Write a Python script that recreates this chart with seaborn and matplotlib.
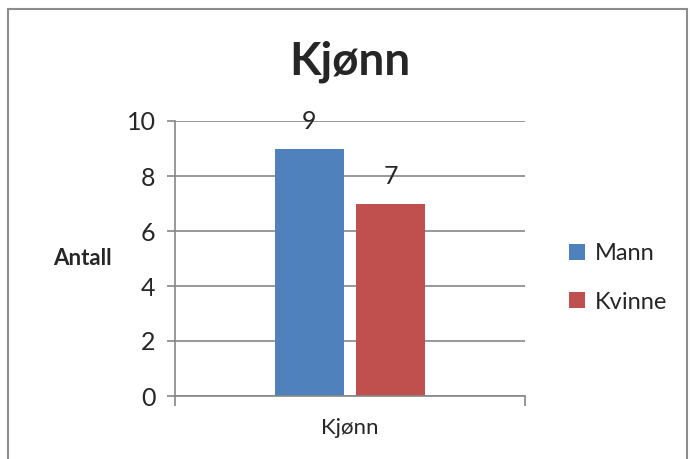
import matplotlib
matplotlib.use("Agg")
import matplotlib.pyplot as plt
import seaborn as sns
import pandas as pd
from matplotlib.patches import Rectangle, Patch

categories = ["Kjønn", "Kjønn"]
series = ["Mann", "Kvinne"]
values = [9, 7]
colors = ["#4F81BD", "#C0504D"]
yticks = [0, 2, 4, 6, 8, 10]

sns.set_theme(style="white")
plt.rcParams["font.family"] = ["Lato", "DejaVu Sans"]

df = pd.DataFrame({"cat": categories, "serie": series, "value": values})

fig = plt.figure(figsize=(6.9, 4.59), dpi=100)
ax = fig.add_axes([175/690, 1-396/459, 350/690, 275/459])

sns.barplot(data=df, x="cat", y="value", hue="serie", palette=colors,
            width=0.463, gap=0.16, ax=ax, legend=False, saturation=1,
            edgecolor="none")

ax.set_xlim(-0.5, 0.5)
ax.set_ylim(0, 10)
ax.set_yticks(yticks)
ax.set_yticklabels([str(t) for t in yticks], fontsize=18)
ax.yaxis.grid(True, color="#868686", linewidth=1.2)
ax.set_axisbelow(True)
for s in ["top", "right"]:
    ax.spines[s].set_visible(False)
for s in ["left", "bottom"]:
    ax.spines[s].set_color("#868686")
    ax.spines[s].set_linewidth(1.2)
ax.tick_params(axis="y", which="major", length=6, width=1.2, color="#868686",
               left=True, pad=8)
ax.set_xticks([0])
ax.set_xticklabels(["Kjønn"], fontsize=16)
ax.tick_params(axis="x", which="major", length=0, pad=16)
ax.set_xticks([-0.5, 0.5], minor=True)
ax.tick_params(axis="x", which="minor", length=7, width=1.2, color="#868686", bottom=True)
ax.set_xlabel("")
ax.set_ylabel("Antall", fontsize=16, fontweight="bold", rotation=0,
              ha="center", va="center")
ax.yaxis.set_label_coords(-0.265, 0.5)

for cont in ax.containers:
    ax.bar_label(cont, padding=11, fontsize=18)

fig.text(350/690, 1-62/459, "Kjønn", ha="center", va="center",
         fontsize=33, fontweight="bold")

handles = [Patch(facecolor=c, edgecolor="none") for c in colors]
fig.legend(handles, series, loc="center left", bbox_to_anchor=(548/690, 1-278/459),
           frameon=False, fontsize=17, handlelength=0.65, handleheight=0.65,
           handletextpad=0.45, labelspacing=1.15)

fig.patches.append(Rectangle((8/690, -0.05), 679/690, 1.05-9/459,
                             transform=fig.transFigure, fill=False,
                             edgecolor="#8c8c8c", linewidth=1.5))

fig.savefig("out.png", dpi=100)
